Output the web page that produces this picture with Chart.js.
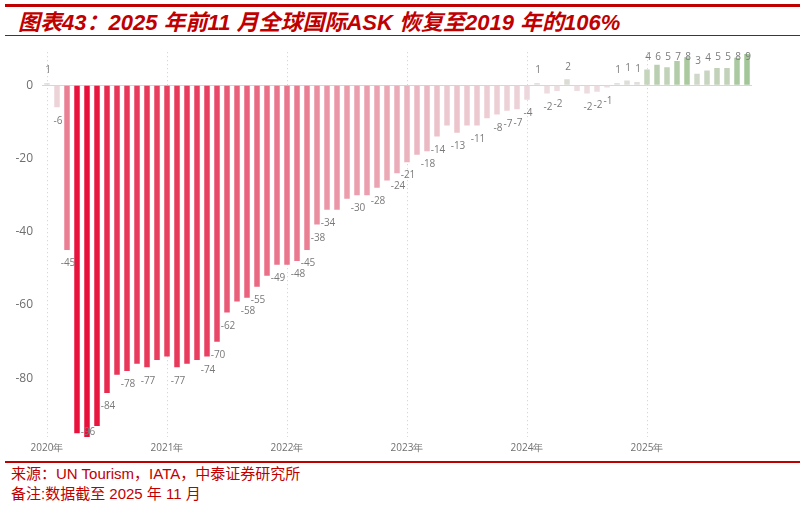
<!DOCTYPE html>
<html>
<head>
<meta charset="utf-8">
<script src="https://cdn.jsdelivr.net/npm/chart.js@4"></script>
<style>
body { margin:0; width:803px; height:505px; background:#fff; position:relative; overflow:hidden; font-family:"Liberation Sans","Noto Sans CJK SC",sans-serif; }
.rule { position:absolute; left:5px; width:795px; background:#c00000; }
#title { position:absolute; left:18px; top:10px; font:italic bold 22px "Liberation Sans","Noto Sans CJK SC"; color:#c00000; white-space:nowrap; line-height:26px; }
.note { position:absolute; left:11px; font-size:15px; color:#c00000; white-space:nowrap; line-height:18px; }
#wrap { position:absolute; left:0; top:35.5px; width:803px; height:426px; }
</style>
</head>
<body>
<div class="rule" style="top:4px;height:3px"></div>
<div id="title">图表43：2025 年前11 月全球国际ASK 恢复至2019 年的106%</div>
<div class="rule" style="top:35px;height:1px"></div>
<div id="wrap"><canvas id="chart"></canvas></div>
<div class="rule" style="top:461px;height:1.5px"></div>
<div class="note" style="top:465px">来源：UN Tourism，IATA，中泰证券研究所</div>
<div class="note" style="top:485px">备注:数据截至 2025 年 11 月</div>
<script>
// 国际ASK 较2019年同月变化 (%), 2020年1月 - 2025年11月
const years = ["2020年", "2021年", "2022年", "2023年", "2024年", "2025年"];

const askChange = [
    0.6, -6, -45, -95, -96, -93, -84, -79, -78, -76, -77, -75,      // 2020
    -74, -77, -76, -75, -74, -70, -62, -59, -58, -55, -52, -49,     // 2021
    -49, -48, -45, -38, -34, -34, -31, -30, -30, -28, -26, -24,     // 2022
    -21, -19, -18, -14, -11, -13, -11, -11, -9, -8, -7, -6.6,       // 2023
    -4, 0.6, -2.3, -1.6, 1.6, -1.6, -2.3, -1.8, -0.6, 0.6, 1.3, 0.9, // 2024
    4.3, 5.6, 4.9, 6.6, 7.6, 3.1, 4.0, 4.7, 4.7, 7.5, 8.5           // 2025
];

// months whose value label is not shown on the original
const hiddenLabels = [3, 5, 7, 9, 11, 12, 14, 15, 19, 22, 24, 29, 30, 32, 34, 37, 40, 42, 44, 53];

const yTicks = [0, -20, -40, -60, -80];

const months = [];
years.forEach((y, yi) => {
    for (let m = 1; m <= 12; m++) {
        if (months.length < askChange.length) months.push(y + m + "月");
    }
});

function mix(a, b, t) {
    return "rgb(" + a.map((c, k) => Math.round(c + (b[k] - c) * t)).join(",") + ")";
}

function barColor(v) {
    if (v < 0) return mix([236, 224, 227], [232, 16, 58], Math.min(-v / 96, 1));
    return mix([232, 226, 228], [158, 196, 146], Math.min(v / 9, 1));
}

const valueLabels = {
    id: "valueLabels",
    afterDatasetsDraw(chart) {
        const ctx = chart.ctx;
        const area = chart.chartArea;
        const meta = chart.getDatasetMeta(0);
        ctx.save();
        ctx.font = '10px "Open Sans"';
        ctx.fillStyle = "#7a7a7a";
        ctx.textAlign = "center";
        ctx.textBaseline = "middle";
        meta.data.forEach((bar, i) => {
            if (hiddenLabels.includes(i)) return;
            const v = askChange[i];
            let y;
            if (v < 0) y = Math.min(bar.y + 13.5, area.bottom - 5);
            else y = Math.max(bar.y - 12.5, area.top + 5);
            ctx.fillText(String(Math.round(v)), bar.x + 1, y);
        });
        ctx.restore();
    }
};

new Chart(document.getElementById("chart"), {
    type: "bar",
    data: {
        labels: months,
        datasets: [{
            data: askChange,
            backgroundColor: askChange.map(barColor),
            barPercentage: 0.55,
            categoryPercentage: 1
        }]
    },
    options: {
        responsive: true,
        maintainAspectRatio: false,
        animation: false,
        layout: { padding: { top: 6.5, right: 51, left: 0, bottom: 0 } },
        plugins: { legend: { display: false }, tooltip: { enabled: false } },
        scales: {
            x: {
                grid: {
                    offset: false,
                    drawTicks: false,
                    color: c => (c.index % 12 === 0 ? "#cfcfcf" : "rgba(0,0,0,0)")
                },
                border: { display: false, dash: [1, 3] },
                ticks: {
                    autoSkip: false,
                    maxRotation: 0,
                    padding: 5,
                    color: "#707070",
                    font: { family: "Open Sans", size: 10 },
                    callback: (val, i) => (i % 12 === 0 ? years[i / 12] : "")
                },
                afterFit: s => { s.height = 25; }
            },
            y: {
                min: -96,
                max: 9,
                afterBuildTicks: s => { s.ticks = yTicks.map(v => ({ value: v })); },
                grid: {
                    drawTicks: false,
                    color: c => (c.tick && c.tick.value === 0 ? "#d6d6d6" : "rgba(0,0,0,0)")
                },
                border: { display: false },
                ticks: {
                    padding: 9,
                    color: "#6e6e6e",
                    font: { family: "Open Sans", size: 12 }
                },
                afterFit: s => { s.width = 42; }
            }
        }
    },
    plugins: [valueLabels]
});
</script>
</body>
</html>
